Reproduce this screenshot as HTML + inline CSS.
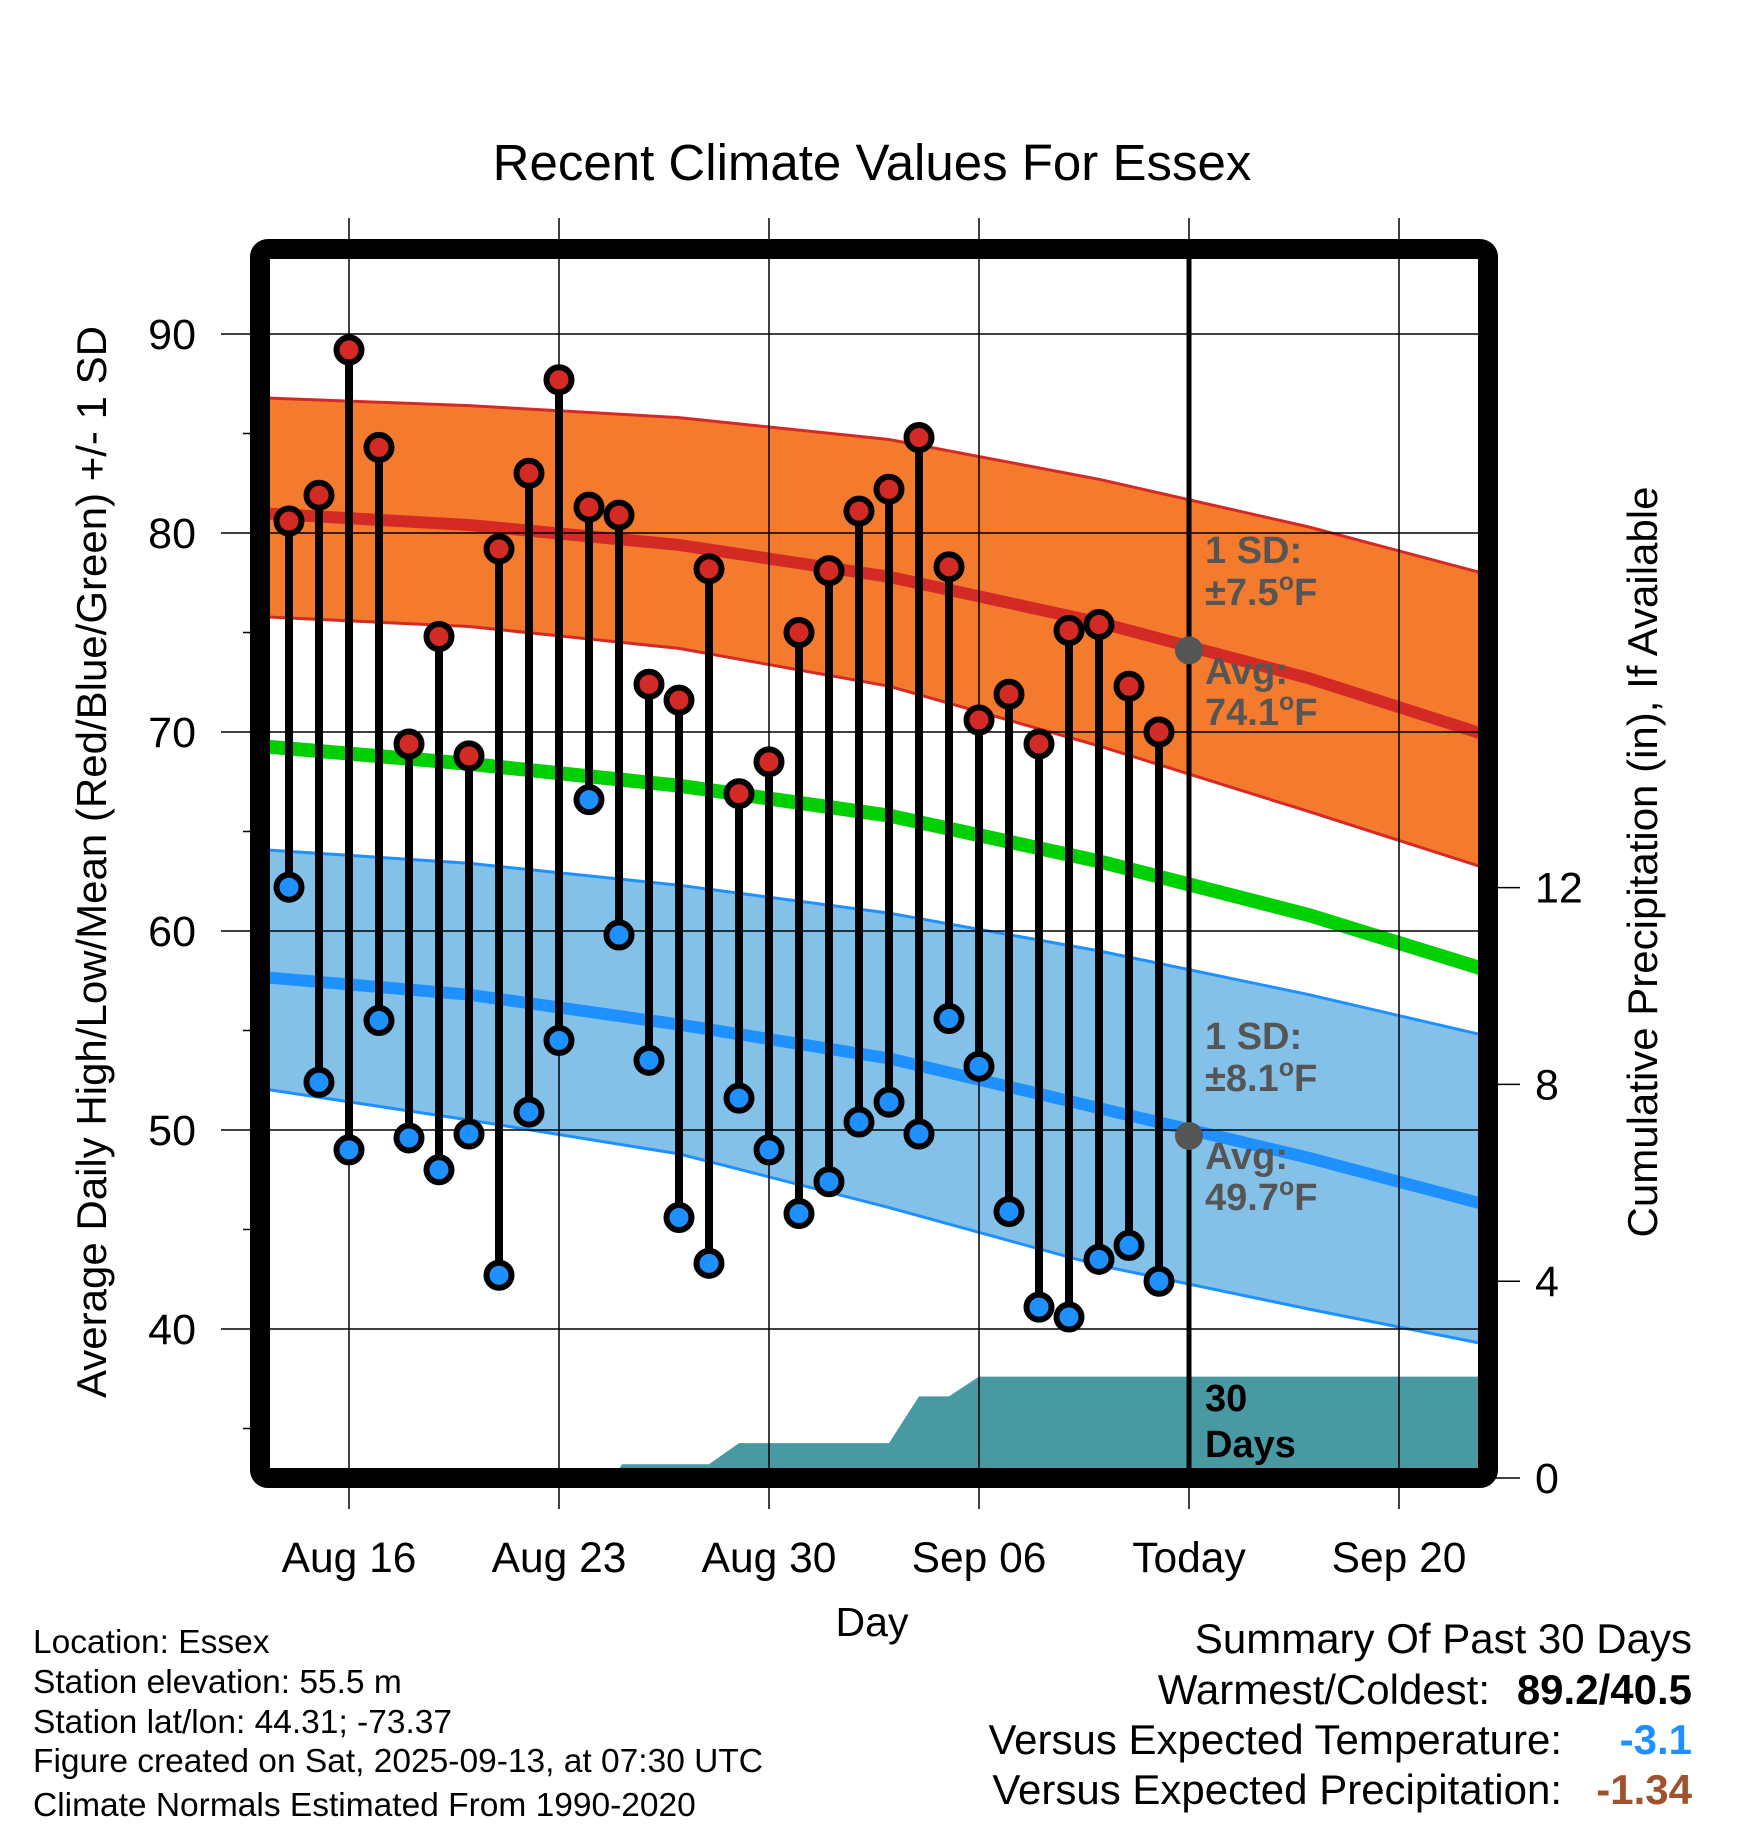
<!DOCTYPE html>
<html><head><meta charset="utf-8"><style>
body{margin:0;background:#fff}
svg{display:block;font-family:"Liberation Sans",sans-serif}
</style></head><body>
<svg id="chart" width="1748" height="1828" viewBox="0 0 1748 1828" xmlns="http://www.w3.org/2000/svg">
<defs><clipPath id="plotclip"><rect x="260" y="249" width="1228" height="1229"/></clipPath></defs>
<text x="872" y="180" font-size="51" text-anchor="middle">Recent Climate Values For Essex</text>
<g id="bands" clip-path="url(#plotclip)"></g>
<g id="grid"></g>
<g id="marks"></g>
<rect x="260" y="249" width="1228" height="1229" fill="none" stroke="#000" stroke-width="20" rx="8"/>
<g id="labels"></g>
<text x="872" y="1636" font-size="41" text-anchor="middle">Day</text>
<text transform="translate(106,862) rotate(-90)" font-size="42" text-anchor="middle">Average Daily High/Low/Mean (Red/Blue/Green) +/- 1 SD</text>
<text transform="translate(1657,862) rotate(-90)" font-size="42" text-anchor="middle">Cumulative Precipitation (in), If Available</text>
<g font-size="33.5">
<text x="33" y="1653">Location: Essex</text>
<text x="33" y="1693">Station elevation: 55.5 m</text>
<text x="33" y="1733">Station lat/lon: 44.31; -73.37</text>
<text x="33" y="1772">Figure created on Sat, 2025-09-13, at 07:30 UTC</text>
<text x="33" y="1816">Climate Normals Estimated From 1990-2020</text>
</g>
<g font-size="42">
<text x="1692" y="1653" text-anchor="end">Summary Of Past 30 Days</text>
<text x="1490" y="1704" text-anchor="end">Warmest/Coldest:</text>
<text x="1692" y="1704" text-anchor="end" font-weight="bold">89.2/40.5</text>
<text x="1562" y="1754" text-anchor="end">Versus Expected Temperature:</text>
<text x="1692" y="1754" text-anchor="end" font-weight="bold" fill="#1e90ff">-3.1</text>
<text x="1562" y="1804" text-anchor="end">Versus Expected Precipitation:</text>
<text x="1692" y="1804" text-anchor="end" font-weight="bold" fill="#a0522d">-1.34</text>
</g>
</svg>
<script>
// days offset from Aug 13 (day 0)
const obsDays = [1,2,3,4,5,6,7,8,9,10,11,12,13,14,15,16,17,18,19,20,21,22,23,24,25,26,27,28,29,30];
const highs = [80.6,81.9,89.2,84.3,69.4,74.8,68.8,79.2,83.0,87.7,81.3,80.9,72.4,71.6,78.2,66.9,68.5,75.0,78.1,81.1,82.2,84.8,78.3,70.6,71.9,69.4,75.1,75.4,72.3,70.0];
const lows = [62.2,52.4,49.0,55.5,49.6,48.0,49.8,42.7,50.9,54.5,66.6,59.8,53.5,45.6,43.3,51.6,49.0,45.8,47.4,50.4,51.4,49.8,55.6,53.2,45.9,41.1,40.6,43.5,44.2,42.4];
const normDays = [0,7,14,21,28,35,41];
const avgHigh = [81.0,80.4,79.4,77.8,75.5,72.7,69.8];
const highUpper = [86.8,86.4,85.8,84.7,82.7,80.3,77.9];
const highLower = [75.8,75.3,74.2,72.3,69.3,66.0,63.1];
const meanT = [69.3,68.4,67.3,65.8,63.5,60.8,58.0];
const avgLow = [57.7,56.8,55.3,53.6,51.1,48.6,46.2];
const lowUpper = [64.1,63.4,62.3,60.9,59.0,56.8,54.7];
const lowLower = [52.1,50.5,48.8,46.1,43.2,41.0,39.2];
const precipDays = [0,11.8,12.1,15,16,21,22,23,24,41];
const precipCum = [0,0,0.28,0.28,0.71,0.71,1.66,1.66,2.06,2.06];
const xTickDays = [3,10,17,24,31,38];
const xTickLabels = ["Aug 16","Aug 23","Aug 30","Sep 06","Today","Sep 20"];
const yTicks = [40,50,60,70,80,90];
const yMinor = [35,45,55,65,75,85];
const y2Ticks = [0,4,8,12];
const todayDay = 31;
const todayHigh = 74.1, todayLow = 49.7;

const NS="http://www.w3.org/2000/svg";
const X=d=>349+(d-3)*30;
const Y=t=>334+(90-t)*19.9;
const Y2=p=>1478-p*49.2;
function mk(parent,tag,attrs){const e=document.createElementNS(NS,tag);for(const k in attrs)e.setAttribute(k,attrs[k]);document.getElementById(parent).appendChild(e);return e;}
function line(days,vals){return days.map((d,i)=>X(d).toFixed(1)+","+Y(vals[i]).toFixed(1)).join(" ");}
function band(days,up,lo){return line(days,up)+" "+days.slice().reverse().map((d,i)=>X(d).toFixed(1)+","+Y(lo[lo.length-1-i]).toFixed(1)).join(" ");}

let e;
e=mk("bands","polygon",{points:band(normDays,highUpper,highLower),fill:"#f47a2e",stroke:"#d42a26","stroke-width":3});


e=mk("bands","polygon",{points:band(normDays,lowUpper,lowLower),fill:"#84c1e8",stroke:"#1e90ff","stroke-width":3});


e=mk("bands","polyline",{points:line(normDays,avgHigh),fill:"none",stroke:"#d42a26","stroke-width":12});


e=mk("bands","polyline",{points:line(normDays,meanT),fill:"none",stroke:"#00d000","stroke-width":14});


e=mk("bands","polyline",{points:line(normDays,avgLow),fill:"none",stroke:"#1e90ff","stroke-width":12});


let pp=precipDays.map((d,i)=>X(d)+","+Y2(precipCum[i])).join(" ");
pp+=" "+X(precipDays[precipDays.length-1])+","+Y2(0)+" "+X(precipDays[0])+","+Y2(0);
e=mk("bands","polygon",{points:pp,fill:"#4899a2"});



// grid
yTicks.forEach(t=>{e=mk("grid","line",{x1:221,x2:1488,y1:Y(t),y2:Y(t),stroke:"#000","stroke-width":1.5});


e=mk("labels","text",{x:196,y:Y(t)+15,"font-size":43,"text-anchor":"end"});e.textContent=t;

});
yMinor.forEach(t=>{e=mk("grid","line",{x1:243,x2:260,y1:Y(t),y2:Y(t),stroke:"#000","stroke-width":1.5});

});
xTickDays.forEach((d,i)=>{e=mk("grid","line",{x1:X(d),x2:X(d),y1:218,y2:1509,stroke:"#000","stroke-width":1.5});


e=mk("labels","text",{x:X(d),y:1572,"font-size":42.5,"text-anchor":"middle"});e.textContent=xTickLabels[i];

});
y2Ticks.forEach(p=>{e=mk("grid","line",{x1:1488,x2:1520,y1:Y2(p),y2:Y2(p),stroke:"#000","stroke-width":1.5});


e=mk("labels","text",{x:1535,y:Y2(p)+15,"font-size":43});e.textContent=p;

});

// today line
e=mk("marks","line",{x1:X(todayDay),x2:X(todayDay),y1:249,y2:1478,stroke:"#000","stroke-width":5});


e=mk("marks","circle",{cx:X(todayDay),cy:Y(todayHigh),r:14,fill:"#555"});


e=mk("marks","circle",{cx:X(todayDay),cy:Y(todayLow),r:14,fill:"#555"});



// stems
obsDays.forEach((d,i)=>{e=mk("marks","line",{x1:X(d),x2:X(d),y1:Y(highs[i]),y2:Y(lows[i]),stroke:"#000","stroke-width":8});

});
obsDays.forEach((d,i)=>{e=mk("marks","circle",{cx:X(d),cy:Y(highs[i]),r:12.5,fill:"#d42a26",stroke:"#000","stroke-width":6});


e=mk("marks","circle",{cx:X(d),cy:Y(lows[i]),r:12.5,fill:"#1e90ff",stroke:"#000","stroke-width":6});

});

// annotations
function ann(txt,y,name,color){e=mk("labels","text",{x:1205,y:y,"font-size":38,"font-weight":"bold",fill:color});


const m=txt.split("°");e.textContent=m[0];
if(m.length>1){const s=document.createElementNS(NS,"tspan");s.setAttribute("font-size","25");s.setAttribute("dy","-15");s.textContent="o";e.appendChild(s);
const s2=document.createElementNS(NS,"tspan");s2.setAttribute("dy","15");s2.textContent=m[1];e.appendChild(s2);}}
ann("1 SD:",563,"high-sd-label","#555");
ann("±7.5°F",605,"high-sd-value","#555");
ann("Avg:",684,"high-avg-label","#555");
ann("74.1°F",725,"high-avg-value","#555");
ann("1 SD:",1049,"low-sd-label","#555");
ann("±8.1°F",1091,"low-sd-value","#555");
ann("Avg:",1169,"low-avg-label","#555");
ann("49.7°F",1210,"low-avg-value","#555");
ann("30",1411,"precip-days-label","#000");
ann("Days",1457,"precip-days-unit","#000");
</script>
</body></html>
